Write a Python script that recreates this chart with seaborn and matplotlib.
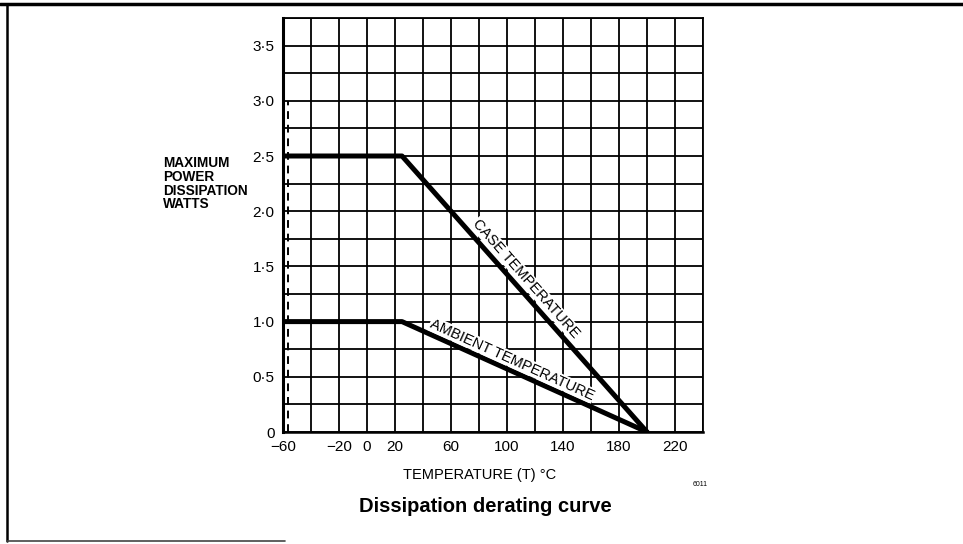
import matplotlib
matplotlib.use("Agg")
import matplotlib.pyplot as plt
from matplotlib.lines import Line2D
import numpy as np
import pandas as pd
import seaborn as sns

# ---- data ----
temps = [-60, 25, 200]
case_watts = [2.5, 2.5, 0.0]
ambient_watts = [1.0, 1.0, 0.0]
series_names = ["CASE TEMPERATURE", "AMBIENT TEMPERATURE"]
x_ticks = [-60, -20, 0, 20, 60, 100, 140, 180, 220]
x_tick_labels = ["\u221260", "\u221220", "0", "20", "60", "100", "140", "180", "220"]
y_ticks = [0, 0.5, 1.0, 1.5, 2.0, 2.5, 3.0, 3.5]
y_tick_labels = ["0", "0\u00b75", "1\u00b70", "1\u00b75", "2\u00b70", "2\u00b75", "3\u00b70", "3\u00b75"]
dashed_x = -56.5
dashed_top = 3.0

sns.set_theme(style="white")
plt.rcParams["font.family"] = ["Liberation Sans", "DejaVu Sans"]
plt.rcParams["text.color"] = "black"
plt.rcParams["xtick.color"] = "black"
plt.rcParams["ytick.color"] = "black"
plt.rcParams["axes.labelcolor"] = "black"

df = pd.DataFrame({
    "T": temps + temps,
    "W": case_watts + ambient_watts,
    "series": [series_names[0]] * 3 + [series_names[1]] * 3,
})

fig = plt.figure(figsize=(9.63, 5.44), dpi=100)
ax = fig.add_axes([283 / 963, 1 - 432 / 544, 420 / 963, 414 / 544])

ax.set_xlim(-60, 240)
ax.set_ylim(0, 3.75)

# grid
for gx in np.arange(-60, 241, 20):
    ax.axvline(gx, color="black", lw=1.3, zorder=1)
for gy in np.arange(0, 3.76, 0.25):
    ax.axhline(gy, color="black", lw=1.3, zorder=1)

sns.lineplot(data=df, x="T", y="W", hue="series", palette=["black", "black"],
             linewidth=3.6, legend=False, ax=ax, sort=False, zorder=3)
ax.plot([dashed_x, dashed_x], [0, dashed_top], color="black", lw=1.4,
        ls=(0, (4, 3)), zorder=2)

# labels along curves
ang_case = np.degrees(np.arctan2(case_watts[2] - case_watts[1], temps[2] - temps[1]))
ang_amb = np.degrees(np.arctan2(ambient_watts[2] - ambient_watts[1], temps[2] - temps[1]))
ax.text(113.5, 1.39, series_names[0], rotation=ang_case, transform_rotates_text=True,
        rotation_mode="anchor", ha="center", va="center", fontsize=10.5,
        fontweight="medium", zorder=4,
        bbox=dict(facecolor="white", edgecolor="none", pad=0.5))
ax.text(103.6, 0.655, series_names[1], rotation=ang_amb, transform_rotates_text=True,
        rotation_mode="anchor", ha="center", va="center", fontsize=10.5,
        fontweight="medium", zorder=4,
        bbox=dict(facecolor="white", edgecolor="none", pad=0.5))

ax.set_xticks(x_ticks)
ax.set_xticklabels(x_tick_labels, fontsize=11)
ax.set_yticks(y_ticks)
ax.set_yticklabels(y_tick_labels, fontsize=11)
ax.tick_params(axis="both", length=3, width=1.3, color="black", direction="out", pad=3)
ax.set_xlabel("")
ax.set_ylabel("")
for s in ax.spines.values():
    s.set_color("black")
    s.set_linewidth(1.3)
ax.spines["left"].set_linewidth(2.2)
ax.spines["bottom"].set_linewidth(1.8)

# text outside axes
fig.text(163 / 963, 1 - 156 / 544, "MAXIMUM\nPOWER\nDISSIPATION\nWATTS",
         ha="left", va="top", fontsize=9.8, fontweight="bold", linespacing=0.98)
fig.text(480 / 963, 1 - 475 / 544, "TEMPERATURE (T) \u00b0C", ha="center", va="center",
         fontsize=10.5)
fig.text(485 / 963, 1 - 507 / 544, "Dissipation derating curve", ha="center",
         va="center", fontsize=14.5, fontweight="bold")
fig.text(700 / 963, 1 - 484 / 544, "6011", ha="center", va="center", fontsize=5)

# page frame
fig.add_artist(Line2D([0, 1], [1 - 4 / 544, 1 - 4 / 544], transform=fig.transFigure,
                      color="black", lw=2.5))
fig.add_artist(Line2D([7 / 963, 7 / 963], [1 - 541 / 544, 1 - 4 / 544],
                      transform=fig.transFigure, color="black", lw=1.8))
fig.add_artist(Line2D([7 / 963, 285 / 963], [1 - 541 / 544, 1 - 541 / 544],
                      transform=fig.transFigure, color="#444444", lw=1.2))

fig.savefig("out.png", dpi=100, facecolor="white")
